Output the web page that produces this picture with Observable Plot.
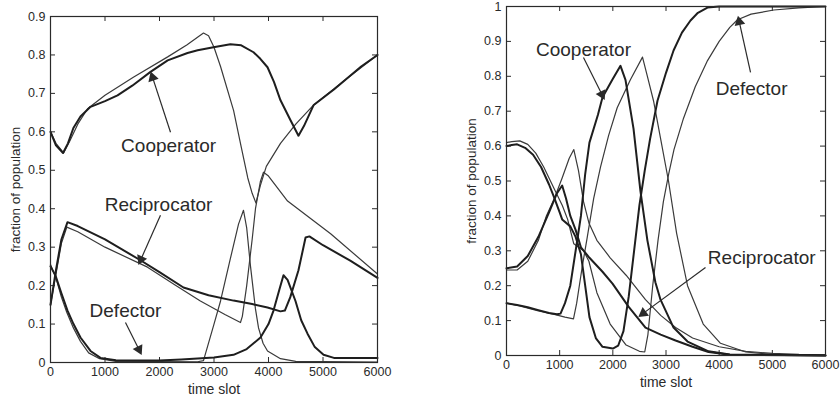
<!DOCTYPE html>
<html>
<head>
<meta charset="utf-8">
<script src="https://cdn.jsdelivr.net/npm/d3@7"></script>
<script src="https://cdn.jsdelivr.net/npm/@observablehq/plot@0.6"></script>
<style>
  html, body { margin: 0; padding: 0; background: #fff; }
  #wrap { display: flex; width: 840px; height: 400px; overflow: hidden; }
  #wrap svg { display: block; background: #fff; }
</style>
</head>
<body>
<div id="wrap"></div>
<script>
// ---------- shared ticks ----------
const xTicks = [0, 1000, 2000, 3000, 4000, 5000, 6000];
const yTicksLeft = [0, 0.1, 0.2, 0.3, 0.4, 0.5, 0.6, 0.7, 0.8, 0.9];
const yTicksRight = [0, 0.1, 0.2, 0.3, 0.4, 0.5, 0.6, 0.7, 0.8, 0.9, 1];
const xLabel = "time slot";
const yLabel = "fraction of population";

// ---------- left panel: [time slot, fraction] ----------
const leftCoopThin = [[0,0.60],[100,0.57],[240,0.545],[350,0.575],[500,0.62],[680,0.66],[1000,0.695],[1520,0.742],[2150,0.795],[2500,0.826],[2807,0.857],[2900,0.85],[3000,0.82],[3120,0.77],[3360,0.655],[3500,0.56],[3620,0.48],[3700,0.44],[3770,0.415],[3850,0.46],[3960,0.51],[4220,0.57],[4500,0.62],[4830,0.67],[5450,0.74],[6000,0.80]];
const leftRecThin = [[0,0.15],[100,0.23],[200,0.31],[300,0.352],[500,0.34],[1000,0.30],[1780,0.248],[2300,0.2],[2750,0.16],[3200,0.125],[3486,0.104],[3520,0.12],[3600,0.2],[3700,0.32],[3761,0.40],[3850,0.47],[3908,0.495],[4000,0.485],[4350,0.42],[5140,0.335],[6000,0.23]];
const leftDefThin = [[0,0.255],[100,0.22],[200,0.17],[300,0.13],[420,0.09],[550,0.055],[700,0.025],[900,0.01],[1200,0.003],[2700,0.002],[2807,0.005],[3000,0.1],[3120,0.16],[3300,0.27],[3450,0.36],[3541,0.396],[3600,0.35],[3670,0.25],[3760,0.14],[3817,0.09],[3900,0.05],[3982,0.03],[4220,0.01],[4500,0.003],[6000,0.001]];
const leftCoopThick = [[0,0.60],[100,0.565],[230,0.545],[320,0.57],[420,0.61],[550,0.64],[734,0.665],[1000,0.68],[1230,0.695],[1500,0.72],[1835,0.756],[2150,0.786],[2514,0.805],[2700,0.812],[2990,0.82],[3300,0.828],[3500,0.825],[3725,0.807],[3850,0.79],[3982,0.768],[4100,0.73],[4220,0.682],[4404,0.63],[4550,0.59],[4650,0.615],[4830,0.67],[5200,0.71],[5450,0.74],[5700,0.77],[6000,0.80]];
const leftRecThick = [[0,0.15],[100,0.24],[200,0.32],[312,0.365],[500,0.355],[1000,0.32],[1650,0.266],[2000,0.235],[2440,0.195],[2900,0.175],[3358,0.161],[3700,0.152],[3982,0.143],[4220,0.133],[4300,0.135],[4400,0.17],[4550,0.24],[4680,0.325],[4750,0.328],[5000,0.305],[5500,0.265],[6000,0.22]];
const leftDefThick = [[0,0.25],[92,0.226],[200,0.18],[312,0.135],[422,0.10],[550,0.065],[734,0.03],[917,0.012],[1200,0.006],[2000,0.005],[2400,0.008],[2625,0.01],[3000,0.013],[3358,0.02],[3600,0.035],[3853,0.065],[4000,0.1],[4092,0.135],[4200,0.19],[4275,0.227],[4350,0.215],[4495,0.16],[4600,0.11],[4716,0.075],[4850,0.04],[5010,0.02],[5200,0.012],[6000,0.012]];

// ---------- right panel ----------
const rightDefThick = [[0,0.60],[100,0.603],[200,0.605],[350,0.595],[500,0.575],[650,0.54],[800,0.49],[890,0.455],[1000,0.41],[1047,0.39],[1200,0.37],[1300,0.34],[1400,0.29],[1480,0.2],[1560,0.11],[1680,0.05],[1806,0.025],[2000,0.02],[2100,0.028],[2200,0.07],[2300,0.17],[2400,0.3],[2500,0.43],[2600,0.53],[2700,0.62],[2840,0.73],[3000,0.81],[3142,0.874],[3300,0.925],[3461,0.96],[3600,0.982],[3780,0.997],[4000,1],[6000,1]];
const rightDefThin = [[0,0.61],[100,0.613],[250,0.615],[400,0.605],[550,0.58],[700,0.54],[890,0.48],[1050,0.43],[1150,0.39],[1266,0.32],[1450,0.3],[1550,0.27],[1700,0.18],[1950,0.09],[2250,0.03],[2500,0.012],[2600,0.01],[2660,0.06],[2750,0.2],[2850,0.33],[2950,0.44],[3050,0.52],[3150,0.59],[3330,0.68],[3550,0.77],[3781,0.845],[4000,0.9],[4200,0.94],[4345,0.962],[4600,0.978],[5028,0.99],[5500,0.996],[6000,1.0]];
const rightRecThick = [[0,0.25],[200,0.255],[400,0.285],[600,0.34],[800,0.41],[950,0.465],[1047,0.487],[1120,0.45],[1200,0.40],[1300,0.36],[1400,0.31],[1560,0.28],[1806,0.24],[1994,0.206],[2295,0.14],[2614,0.08],[2900,0.06],[3180,0.043],[3500,0.025],[3800,0.01],[4200,0.002],[6000,0]];
const rightRecThin = [[0,0.245],[200,0.245],[400,0.27],[600,0.33],[750,0.40],[900,0.45],[1050,0.51],[1180,0.565],[1266,0.59],[1354,0.53],[1450,0.44],[1550,0.38],[1700,0.33],[1950,0.28],[2250,0.23],[2614,0.16],[2900,0.115],[3180,0.08],[3500,0.05],[4000,0.025],[4500,0.012],[5000,0.006],[5500,0.003],[6000,0.002]];
const rightCoopThick = [[0,0.15],[200,0.145],[400,0.138],[600,0.13],[800,0.122],[950,0.118],[1016,0.12],[1100,0.15],[1200,0.2],[1300,0.3],[1400,0.4],[1480,0.52],[1560,0.61],[1720,0.69],[1806,0.74],[1990,0.79],[2144,0.83],[2238,0.79],[2389,0.65],[2520,0.47],[2650,0.33],[2800,0.21],[2897,0.16],[3142,0.08],[3405,0.04],[3800,0.012],[4200,0.003],[6000,0]];
const rightCoopThin = [[0,0.15],[300,0.14],[600,0.128],[900,0.118],[1100,0.11],[1260,0.105],[1320,0.15],[1420,0.25],[1520,0.34],[1640,0.45],[1768,0.54],[1920,0.63],[2082,0.71],[2330,0.79],[2558,0.855],[2650,0.8],[2765,0.73],[2900,0.62],[3047,0.5],[3200,0.35],[3405,0.2],[3700,0.09],[4025,0.035],[4500,0.01],[5000,0.003],[6000,0]];

// ---------- annotations (label text, label anchor, arrow start, arrow tip) in data units ----------
const leftNotes = [
  {text: "Cooperator",   tx: 2168, ty: 0.563, x1: 2202, y1: 0.599, x2: 1853, y2: 0.75},
  {text: "Reciprocator", tx: 1982, ty: 0.411, x1: 2018, y1: 0.383, x2: 1633, y2: 0.26},
  {text: "Defector",     tx: 1376, ty: 0.135, x1: 1376, y1: 0.104, x2: 1651, y2: 0.026}
];
const rightNotes = [
  {text: "Cooperator",   tx: 1448, ty: 0.877, x1: 1448, y1: 0.854, x2: 1824, y2: 0.739},
  {text: "Defector",     tx: 4610, ty: 0.765, x1: 4590, y1: 0.811, x2: 4364, y2: 0.966},
  {text: "Reciprocator", tx: 4800, ty: 0.281, x1: 3743, y1: 0.252, x2: 2520, y2: 0.115}
];

const INK = "#2a2a2a";
const FONT = "Liberation Sans, Arial, Helvetica, sans-serif";

function panel({width, height, mL, mR, mT, mB, yDomain, yTicks, thick, thin, notes, yLabelDx, xLabelDy}) {
  const iw = width - mL - mR, ih = height - mT - mB;
  const xSpan = 6000, ySpan = yDomain[1] - yDomain[0];
  const fmt = d => String(+d.toFixed(1));
  // arrow heads: filled triangles placed just behind each tip, rotated along the shaft
  const heads = notes.map(n => {
    const dx = (n.x2 - n.x1) / xSpan * iw, dy = -(n.y2 - n.y1) / ySpan * ih;
    const len = Math.hypot(dx, dy), ux = dx / len, uy = dy / len;
    const back = 3.5;
    return {
      x: n.x2 - ux * back * xSpan / iw,
      y: n.y2 + uy * back * ySpan / ih,
      rot: Math.atan2(ux, -uy) * 180 / Math.PI
    };
  });
  const marks = [
    // inward ticks on all four sides
    Plot.tickX(xTicks, {x: d => d, insetTop: ih - 5, stroke: INK}),
    Plot.tickX(xTicks, {x: d => d, insetBottom: ih - 5, stroke: INK}),
    Plot.tickY(yTicks, {y: d => d, insetRight: iw - 5, stroke: INK}),
    Plot.tickY(yTicks, {y: d => d, insetLeft: iw - 5, stroke: INK}),
    Plot.axisX({ticks: xTicks, tickSize: 0, tickPadding: 5, tickFormat: d => String(d), fontSize: 12.5, label: null}),
    Plot.axisY({ticks: yTicks, tickSize: 0, tickPadding: 5, tickFormat: fmt, fontSize: 12.5, label: null}),
    ...thin.map(s => Plot.line(s, {x: d => d[0], y: d => d[1], stroke: "#3a3a3a", strokeWidth: 1.2})),
    ...thick.map(s => Plot.line(s, {x: d => d[0], y: d => d[1], stroke: "#1e1e1e", strokeWidth: 2})),
    Plot.frame({stroke: INK, strokeWidth: 1.2}),
    Plot.link(notes, {x1: "x1", y1: "y1", x2: "x2", y2: "y2", stroke: INK, strokeWidth: 1.2}),
    Plot.dot(heads, {x: "x", y: "y", rotate: "rot", symbol: "triangle", r: 4, fill: INK, stroke: "none"}),
    Plot.text(notes, {x: "tx", y: "ty", text: "text", fontSize: 19, fill: INK, textAnchor: "middle", lineAnchor: "middle"}),
    Plot.text([xLabel], {frameAnchor: "bottom", dy: xLabelDy, fontSize: 14, fill: INK, textAnchor: "middle", lineAnchor: "middle"}),
    Plot.text([yLabel], {frameAnchor: "left", dx: yLabelDx, rotate: -90, fontSize: 13.5, fill: INK, textAnchor: "middle", lineAnchor: "middle"})
  ];
  return Plot.plot({
    width, height,
    marginLeft: mL, marginRight: mR, marginTop: mT, marginBottom: mB,
    style: {fontFamily: FONT, color: INK, background: "#fff", overflow: "visible"},
    x: {domain: [0, 6000]},
    y: {domain: yDomain},
    marks
  });
}

const left = panel({
  width: 420, height: 400, mL: 50, mR: 43, mT: 16, mB: 38,
  yDomain: [0, 0.9], yTicks: yTicksLeft,
  thick: [leftCoopThick, leftRecThick, leftDefThick],
  thin: [leftCoopThin, leftRecThin, leftDefThin],
  notes: leftNotes, yLabelDx: -35, xLabelDy: 27
});
const right = panel({
  width: 420, height: 400, mL: 86, mR: 15, mT: 6, mB: 45,
  yDomain: [0, 1], yTicks: yTicksRight,
  thick: [rightCoopThick, rightRecThick, rightDefThick],
  thin: [rightCoopThin, rightRecThin, rightDefThin],
  notes: rightNotes, yLabelDx: -35, xLabelDy: 27
});
document.getElementById("wrap").append(left, right);
</script>
</body>
</html>
